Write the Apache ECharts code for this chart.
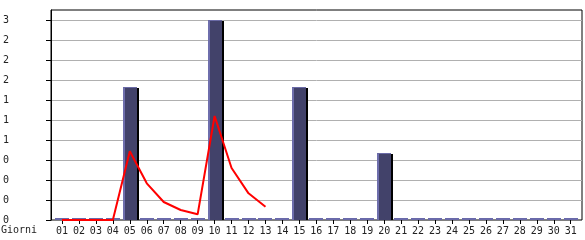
<!DOCTYPE html>
<html>
<head>
<meta charset="utf-8">
<script src="https://cdn.jsdelivr.net/npm/echarts@6/dist/echarts.min.js"></script>
<style>html,body{margin:0;padding:0;background:#fff}#c{width:585px;height:240px}</style>
</head>
<body>
<div id="c"></div>
<script>
const days = ['01','02','03','04','05','06','07','08','09','10','11','12','13','14','15','16','17','18','19','20','21','22','23','24','25','26','27','28','29','30','31'];
const barValues = [0,0,0,0,2,0,0,0,0,3,0,0,0,0,2,0,0,0,0,1,0,0,0,0,0,0,0,0,0,0,0];
const trendValues = [0,0,0,0,1.03,0.55,0.27,0.15,0.085,1.56,0.78,0.40,0.20,null,null,null,null,null,null,null,null,null,null,null,null,null,null,null,null,null,null];
const yTickLabels = ['0','0','0','0','1','1','1','2','2','2','3'];
const xName = 'Giorni';

const FONT = 'DejaVu Sans Mono';
const chart = echarts.init(document.getElementById('c'), null, {renderer: 'canvas'});
const YMAX = 3.15;

chart.setOption({
  animation: false,
  backgroundColor: '#fff',
  title: {
    text: xName, left: 1, top: 225, padding: 0,
    textStyle: {fontFamily: FONT, fontSize: 10, fontWeight: 'normal', color: '#222'}
  },
  grid: [
    {left: 50, right: 3, top: 10, bottom: 20, show: true, borderColor: '#000', borderWidth: 1, backgroundColor: 'transparent'},
    {left: 53.5, right: 5.8, top: 10, bottom: 20}
  ],
  xAxis: [
    {gridIndex: 0, type: 'value', min: 0, max: 1, show: false},
    {
      gridIndex: 1, type: 'category', data: days,
      axisLine: {show: false},
      axisTick: {show: true, alignWithLabel: true, length: 4, lineStyle: {color: '#000'}},
      axisLabel: {fontFamily: FONT, fontSize: 10, color: '#222', margin: 6, interval: 0},
      splitLine: {show: false}
    }
  ],
  yAxis: [
    {
      gridIndex: 0, type: 'value', min: 0, max: YMAX, interval: 0.3,
      axisLine: {show: true, lineStyle: {color: '#000'}},
      axisTick: {show: true, length: 5, lineStyle: {color: '#000'}},
      axisLabel: {
        fontFamily: FONT, fontSize: 10, color: '#222', align: 'left', margin: 48,
        showMaxLabel: false,
        formatter: v => { const i = Math.round(v / 0.3); return Math.abs(i * 0.3 - v) < 1e-6 && yTickLabels[i] !== undefined ? yTickLabels[i] : ''; }
      },
      splitLine: {show: true, showMinLine: false, showMaxLine: false, lineStyle: {color: '#b0b0b0', width: 1}}
    },
    {gridIndex: 1, type: 'value', min: 0, max: YMAX, show: false, splitLine: {show: false}}
  ],
  series: [
    {
      type: 'custom', xAxisIndex: 1, yAxisIndex: 1, z: 2,
      data: barValues.map((v, i) => [i, v]),
      encode: {x: 0, y: 1},
      renderItem: function (params, api) {
        const v = api.value(1);
        const top = api.coord([api.value(0), v]);
        const base = api.coord([api.value(0), 0]);
        const cx = Math.round(top[0]);
        const b = base[1];
        if (v === 0) {
          return {type: 'rect', shape: {x: cx - 7, y: b - 2, width: 14, height: 2}, style: {fill: '#6a6aaa'}};
        }
        const t = Math.round(top[1]);
        return {
          type: 'group',
          children: [
            {type: 'rect', shape: {x: cx + 7, y: t + 1, width: 2, height: b - t - 1}, style: {fill: '#000'}},
            {type: 'rect', shape: {x: cx - 7, y: t, width: 14, height: b - t}, style: {fill: '#42426a'}},
            {type: 'rect', shape: {x: cx - 7, y: t, width: 2, height: b - t}, style: {fill: '#6e6eac'}},
            {type: 'rect', shape: {x: cx - 7, y: t, width: 14, height: 1}, style: {fill: '#6a6aa6'}}
          ]
        };
      }
    },
    {
      type: 'line', xAxisIndex: 1, yAxisIndex: 1, z: 3,
      data: trendValues,
      showSymbol: false, symbol: 'none', smooth: false, connectNulls: false,
      lineStyle: {color: '#ff0000', width: 2},
      itemStyle: {color: '#ff0000'}
    }
  ]
});
</script>
</body>
</html>
